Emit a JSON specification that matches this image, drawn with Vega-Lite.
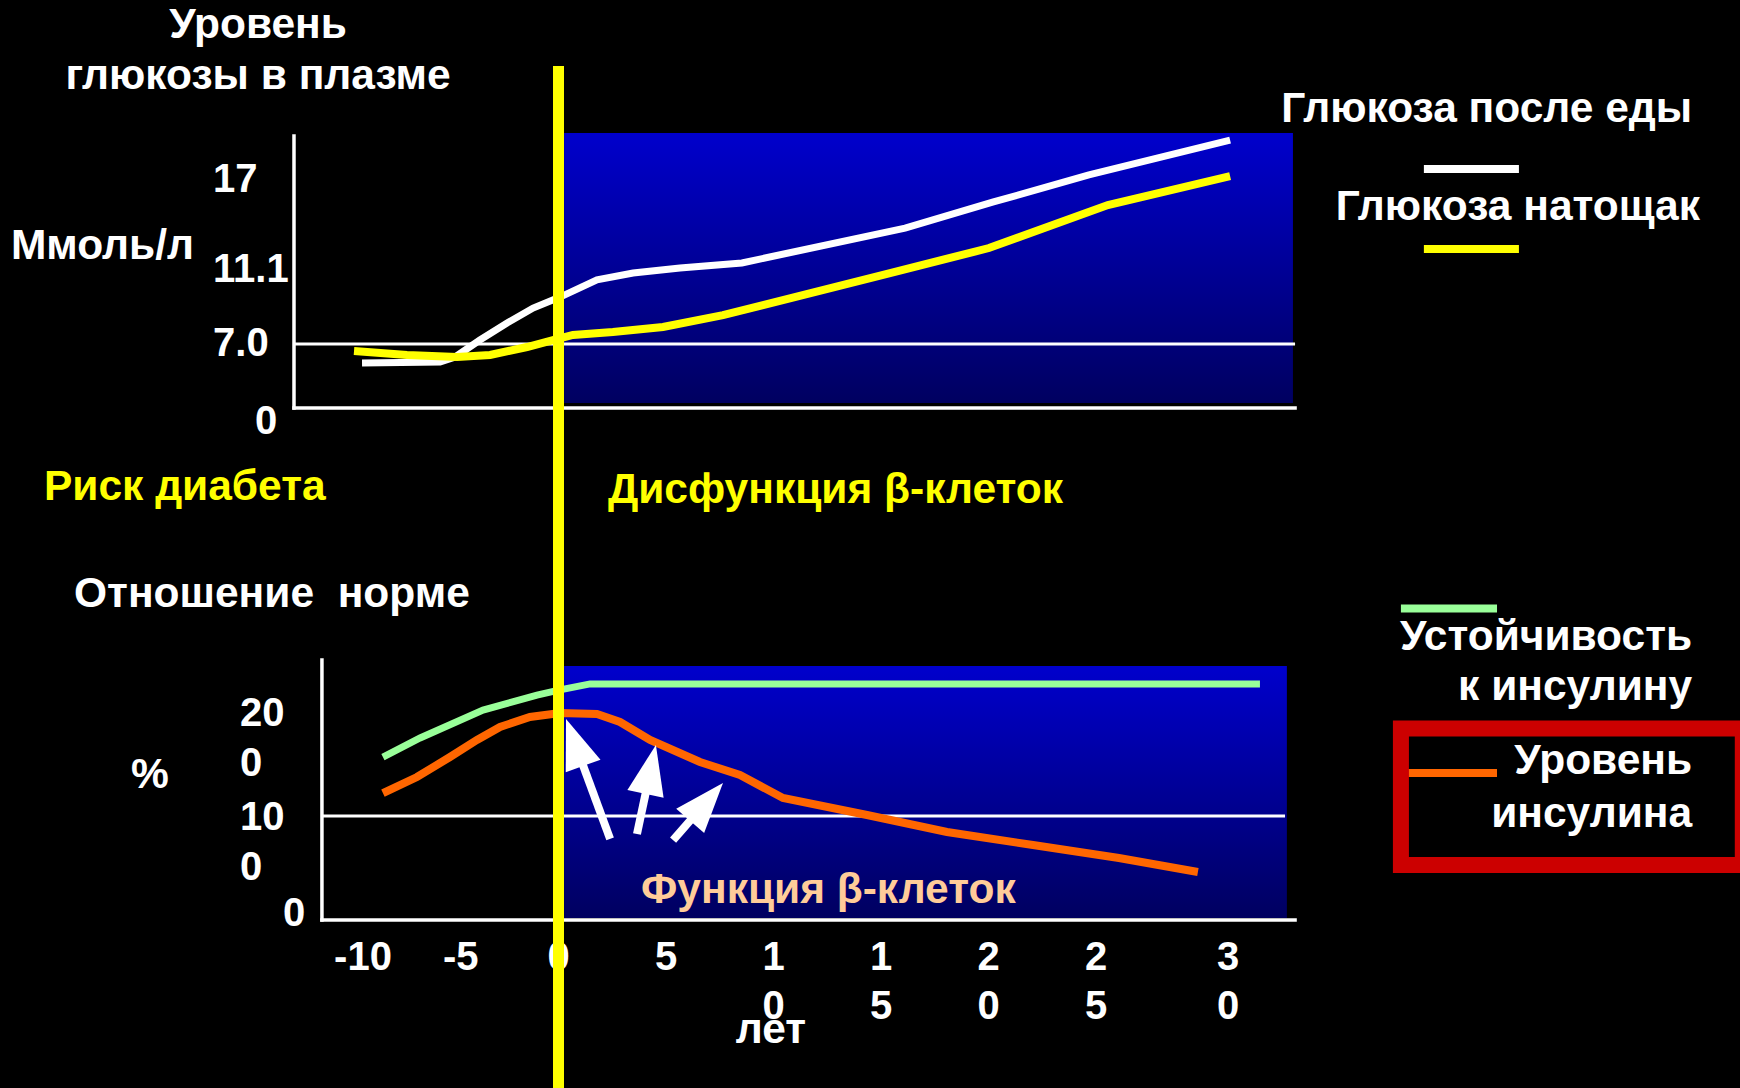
{
  "$schema": "https://vega.github.io/schema/vega-lite/v6.json",
  "width": 1740,
  "height": 1088,
  "autosize": {"type": "none"},
  "padding": 0,
  "background": "#000000",
  "config": {
    "view": {"stroke": null},
    "text": {"font": "Liberation Sans", "fontWeight": "bold", "fontSize": 42.5, "color": "#FFFFFF"}
  },
  "datasets": {
    "postMeal": [
      {"year": -10.05, "mmol": 4.92}, {"year": -6.06, "mmol": 5.03}, {"year": -5.29, "mmol": 5.58},
      {"year": -4.02, "mmol": 7.22}, {"year": -2.63, "mmol": 8.16}, {"year": -1.3, "mmol": 8.99},
      {"year": 0.07, "mmol": 9.6}, {"year": 1.79, "mmol": 10.55}, {"year": 3.47, "mmol": 10.93},
      {"year": 5.65, "mmol": 11.23}, {"year": 8.53, "mmol": 11.56}, {"year": 16.12, "mmol": 13.85},
      {"year": 20.23, "mmol": 15.56}, {"year": 24.67, "mmol": 17.33}, {"year": 30.08, "mmol": 19.62}
    ],
    "fasting": [
      {"year": -10.46, "mmol": 6.23}, {"year": -7.75, "mmol": 5.8}, {"year": -5.19, "mmol": 5.58},
      {"year": -3.5, "mmol": 5.8}, {"year": -1.61, "mmol": 6.67}, {"year": -0.28, "mmol": 7.22},
      {"year": 0.67, "mmol": 7.5}, {"year": 2.53, "mmol": 7.66}, {"year": 4.86, "mmol": 7.94},
      {"year": 7.65, "mmol": 8.6}, {"year": 15.42, "mmol": 10.93},
      {"year": 20.02, "mmol": 12.54}, {"year": 25.45, "mmol": 15.36}, {"year": 30.08, "mmol": 17.26}
    ],
    "resistance": [
      {"year": -8.98, "pct": 156.7}, {"year": -7.08, "pct": 175.0}, {"year": -3.86, "pct": 201.9},
      {"year": -1.1, "pct": 216.3}, {"year": 0.07, "pct": 221.2}, {"year": 1.47, "pct": 227.0},
      {"year": 31.21, "pct": 227.0}
    ],
    "insulin": [
      {"year": -8.98, "pct": 122.1}, {"year": -7.24, "pct": 137.5}, {"year": -5.55, "pct": 156.7},
      {"year": -4.17, "pct": 173.1}, {"year": -2.99, "pct": 185.6}, {"year": -1.46, "pct": 195.2},
      {"year": 0.07, "pct": 199.0}, {"year": 1.79, "pct": 198.1}, {"year": 2.86, "pct": 190.4},
      {"year": 4.26, "pct": 173.1}, {"year": 6.58, "pct": 151.9}, {"year": 8.44, "pct": 139.4},
      {"year": 10.44, "pct": 117.3}, {"year": 14.35, "pct": 101.0}, {"year": 18.07, "pct": 84.6},
      {"year": 22.07, "pct": 72.1}, {"year": 25.87, "pct": 59.6}, {"year": 28.86, "pct": 46.2}
    ],
    "arrows": [
      {"tailYear": 2.4, "tailPct": 77.9, "neckYear": 0.83, "neckPct": 166.2, "tipYear": 0.35, "tipPct": 193.3, "heading": 340},
      {"tailYear": 3.65, "tailPct": 82.7, "neckYear": 4.24, "neckPct": 140.1, "tipYear": 4.53, "tipPct": 168.3, "heading": 12},
      {"tailYear": 5.33, "tailPct": 76.9, "neckYear": 6.73, "neckPct": 110.0, "tipYear": 7.65, "tipPct": 131.7, "heading": 41}
    ],
    "years": [
      {"year": -10, "label": "-10"}, {"year": -5, "label": "-5"}, {"year": 0, "label": "0"},
      {"year": 5, "label": "5"}, {"year": 10, "label": "1\n0"}, {"year": 15, "label": "1\n5"},
      {"year": 20, "label": "2\n0"}, {"year": 25, "label": "2\n5"}, {"year": 30, "label": "3\n0"}
    ]
  },
  "resolve": {"scale": {"y": "independent"}},
  "layer": [
    {
      "layer": [
        {
          "data": {"values": [{"start": 0.26, "end": 32.46, "low": 0.55, "high": 20.08}]},
          "mark": {"type": "rect", "fill": {"gradient": "linear", "x1": 0, "y1": 0, "x2": 0, "y2": 1, "stops": [{"offset": 0, "color": "#0000CC"}, {"offset": 1, "color": "#000060"}]}},
          "encoding": {
            "x": {"field": "start", "type": "quantitative", "scale": {"domain": [-10, 0, 25, 30], "range": [363, 558.5, 1096, 1228], "nice": false, "zero": false}, "axis": null},
            "x2": {"field": "end"},
            "y": {"field": "high", "type": "quantitative", "scale": {"domain": [0, 7, 11.1, 17], "range": [408, 344, 270, 180], "nice": false, "zero": false}, "axis": null},
            "y2": {"field": "low"}
          }
        },
        {
          "data": {"values": [
            {"fromYear": -13.53, "toYear": -13.53, "fromLevel": 0, "toLevel": 19.88},
            {"fromYear": -13.53, "toYear": 32.54, "fromLevel": 0, "toLevel": 0}
          ]},
          "mark": {"type": "rule", "color": "#FFFFFF", "strokeWidth": 3.5, "strokeCap": "square"},
          "encoding": {
            "x": {"field": "fromYear", "type": "quantitative", "scale": {"domain": [-10, 0, 25, 30], "range": [363, 558.5, 1096, 1228], "nice": false, "zero": false}, "axis": null},
            "x2": {"field": "toYear"},
            "y": {"field": "fromLevel", "type": "quantitative", "scale": {"domain": [0, 7, 11.1, 17], "range": [408, 344, 270, 180], "nice": false, "zero": false}, "axis": null},
            "y2": {"field": "toLevel"}
          }
        },
        {
          "data": {"values": [{"fromYear": -13.53, "toYear": 32.54, "level": 7}]},
          "mark": {"type": "rule", "color": "#FFFFFF", "strokeWidth": 3},
          "encoding": {
            "x": {"field": "fromYear", "type": "quantitative", "scale": {"domain": [-10, 0, 25, 30], "range": [363, 558.5, 1096, 1228], "nice": false, "zero": false}, "axis": null},
            "x2": {"field": "toYear"},
            "y": {"field": "level", "type": "quantitative", "scale": {"domain": [0, 7, 11.1, 17], "range": [408, 344, 270, 180], "nice": false, "zero": false}, "axis": null}
          }
        },
        {
          "data": {"name": "postMeal"},
          "mark": {"type": "line", "color": "#FFFFFF", "strokeWidth": 7, "strokeCap": "butt"},
          "encoding": {
            "x": {"field": "year", "type": "quantitative", "scale": {"domain": [-10, 0, 25, 30], "range": [363, 558.5, 1096, 1228], "nice": false, "zero": false}, "axis": null},
            "y": {"field": "mmol", "type": "quantitative", "scale": {"domain": [0, 7, 11.1, 17], "range": [408, 344, 270, 180], "nice": false, "zero": false}, "axis": null}
          }
        },
        {
          "data": {"name": "fasting"},
          "mark": {"type": "line", "color": "#FFFF00", "strokeWidth": 8, "strokeCap": "butt"},
          "encoding": {
            "x": {"field": "year", "type": "quantitative", "scale": {"domain": [-10, 0, 25, 30], "range": [363, 558.5, 1096, 1228], "nice": false, "zero": false}, "axis": null},
            "y": {"field": "mmol", "type": "quantitative", "scale": {"domain": [0, 7, 11.1, 17], "range": [408, 344, 270, 180], "nice": false, "zero": false}, "axis": null}
          }
        },
        {
          "data": {"values": [{"level": 17, "label": "17"}, {"level": 11.1, "label": "11.1"}, {"level": 7, "label": "7.0"}]},
          "mark": {"type": "text", "align": "left", "baseline": "middle", "fontSize": 40},
          "encoding": {
            "x": {"datum": -17.67, "type": "quantitative", "scale": {"domain": [-10, 0, 25, 30], "range": [363, 558.5, 1096, 1228], "nice": false, "zero": false}, "axis": null},
            "y": {"field": "level", "type": "quantitative", "scale": {"domain": [0, 7, 11.1, 17], "range": [408, 344, 270, 180], "nice": false, "zero": false}, "axis": null},
            "text": {"field": "label", "type": "nominal"}
          }
        },
        {
          "data": {"values": [{"level": 0, "label": "0"}]},
          "mark": {"type": "text", "align": "left", "baseline": "middle", "dy": 14, "fontSize": 40},
          "encoding": {
            "x": {"datum": -15.52, "type": "quantitative", "scale": {"domain": [-10, 0, 25, 30], "range": [363, 558.5, 1096, 1228], "nice": false, "zero": false}, "axis": null},
            "y": {"field": "level", "type": "quantitative", "scale": {"domain": [0, 7, 11.1, 17], "range": [408, 344, 270, 180], "nice": false, "zero": false}, "axis": null},
            "text": {"field": "label", "type": "nominal"}
          }
        },
        {
          "data": {"values": [
            {"year": -15.37, "level": 26.31, "label": "Уровень"},
            {"year": -15.37, "level": 22.97, "label": "глюкозы в плазме"}
          ]},
          "mark": {"type": "text", "align": "center", "baseline": "alphabetic"},
          "encoding": {
            "x": {"field": "year", "type": "quantitative", "scale": {"domain": [-10, 0, 25, 30], "range": [363, 558.5, 1096, 1228], "nice": false, "zero": false}, "axis": null},
            "y": {"field": "level", "type": "quantitative", "scale": {"domain": [0, 7, 11.1, 17], "range": [408, 344, 270, 180], "nice": false, "zero": false}, "axis": null},
            "text": {"field": "label", "type": "nominal"}
          }
        },
        {
          "data": {"values": [{"year": -28.01, "level": 11.8, "label": "Ммоль/л"}]},
          "mark": {"type": "text", "align": "left", "baseline": "alphabetic"},
          "encoding": {
            "x": {"field": "year", "type": "quantitative", "scale": {"domain": [-10, 0, 25, 30], "range": [363, 558.5, 1096, 1228], "nice": false, "zero": false}, "axis": null},
            "y": {"field": "level", "type": "quantitative", "scale": {"domain": [0, 7, 11.1, 17], "range": [408, 344, 270, 180], "nice": false, "zero": false}, "axis": null},
            "text": {"field": "label", "type": "nominal"}
          }
        },
        {
          "data": {"values": [
            {"year": 47.58, "level": 20.8, "label": "Глюкоза после еды"},
            {"year": 47.88, "level": 14.38, "label": "Глюкоза натощак"}
          ]},
          "mark": {"type": "text", "align": "right", "baseline": "alphabetic"},
          "encoding": {
            "x": {"field": "year", "type": "quantitative", "scale": {"domain": [-10, 0, 25, 30], "range": [363, 558.5, 1096, 1228], "nice": false, "zero": false}, "axis": null},
            "y": {"field": "level", "type": "quantitative", "scale": {"domain": [0, 7, 11.1, 17], "range": [408, 344, 270, 180], "nice": false, "zero": false}, "axis": null},
            "text": {"field": "label", "type": "nominal"}
          }
        },
        {
          "data": {"values": [{"fromYear": 37.42, "toYear": 41.02, "level": 17.72}]},
          "mark": {"type": "rule", "color": "#FFFFFF", "strokeWidth": 8},
          "encoding": {
            "x": {"field": "fromYear", "type": "quantitative", "scale": {"domain": [-10, 0, 25, 30], "range": [363, 558.5, 1096, 1228], "nice": false, "zero": false}, "axis": null},
            "x2": {"field": "toYear"},
            "y": {"field": "level", "type": "quantitative", "scale": {"domain": [0, 7, 11.1, 17], "range": [408, 344, 270, 180], "nice": false, "zero": false}, "axis": null}
          }
        },
        {
          "data": {"values": [{"fromYear": 37.42, "toYear": 41.02, "level": 12.48}]},
          "mark": {"type": "rule", "color": "#FFFF00", "strokeWidth": 8},
          "encoding": {
            "x": {"field": "fromYear", "type": "quantitative", "scale": {"domain": [-10, 0, 25, 30], "range": [363, 558.5, 1096, 1228], "nice": false, "zero": false}, "axis": null},
            "x2": {"field": "toYear"},
            "y": {"field": "level", "type": "quantitative", "scale": {"domain": [0, 7, 11.1, 17], "range": [408, 344, 270, 180], "nice": false, "zero": false}, "axis": null}
          }
        },
        {
          "data": {"values": [
            {"year": -26.32, "level": -10.06, "label": "Риск диабета"},
            {"year": 2.3, "level": -10.39, "label": "Дисфункция β-клеток"}
          ]},
          "mark": {"type": "text", "align": "left", "baseline": "alphabetic", "color": "#FFFF00"},
          "encoding": {
            "x": {"field": "year", "type": "quantitative", "scale": {"domain": [-10, 0, 25, 30], "range": [363, 558.5, 1096, 1228], "nice": false, "zero": false}, "axis": null},
            "y": {"field": "level", "type": "quantitative", "scale": {"domain": [0, 7, 11.1, 17], "range": [408, 344, 270, 180], "nice": false, "zero": false}, "axis": null},
            "text": {"field": "label", "type": "nominal"}
          }
        }
      ]
    },
    {
      "layer": [
        {
          "data": {"values": [{"start": 0.26, "end": 32.23, "low": 2, "high": 244.2}]},
          "mark": {"type": "rect", "fill": {"gradient": "linear", "x1": 0, "y1": 0, "x2": 0, "y2": 1, "stops": [{"offset": 0, "color": "#0000CC"}, {"offset": 1, "color": "#000060"}]}},
          "encoding": {
            "x": {"field": "start", "type": "quantitative", "scale": {"domain": [-10, 0, 25, 30], "range": [363, 558.5, 1096, 1228], "nice": false, "zero": false}, "axis": null},
            "x2": {"field": "end"},
            "y": {"field": "high", "type": "quantitative", "scale": {"domain": [0, 200], "range": [920, 712], "nice": false, "zero": false}, "axis": null},
            "y2": {"field": "low"}
          }
        },
        {
          "data": {"values": [
            {"fromYear": -12.1, "toYear": -12.1, "fromPct": 0, "toPct": 250},
            {"fromYear": -12.1, "toYear": 32.54, "fromPct": 0, "toPct": 0}
          ]},
          "mark": {"type": "rule", "color": "#FFFFFF", "strokeWidth": 3.5, "strokeCap": "square"},
          "encoding": {
            "x": {"field": "fromYear", "type": "quantitative", "scale": {"domain": [-10, 0, 25, 30], "range": [363, 558.5, 1096, 1228], "nice": false, "zero": false}, "axis": null},
            "x2": {"field": "toYear"},
            "y": {"field": "fromPct", "type": "quantitative", "scale": {"domain": [0, 200], "range": [920, 712], "nice": false, "zero": false}, "axis": null},
            "y2": {"field": "toPct"}
          }
        },
        {
          "data": {"values": [{"fromYear": -12.1, "toYear": 32.16, "pct": 100}]},
          "mark": {"type": "rule", "color": "#FFFFFF", "strokeWidth": 3},
          "encoding": {
            "x": {"field": "fromYear", "type": "quantitative", "scale": {"domain": [-10, 0, 25, 30], "range": [363, 558.5, 1096, 1228], "nice": false, "zero": false}, "axis": null},
            "x2": {"field": "toYear"},
            "y": {"field": "pct", "type": "quantitative", "scale": {"domain": [0, 200], "range": [920, 712], "nice": false, "zero": false}, "axis": null}
          }
        },
        {
          "data": {"name": "resistance"},
          "mark": {"type": "line", "color": "#99FF99", "strokeWidth": 7, "strokeCap": "butt"},
          "encoding": {
            "x": {"field": "year", "type": "quantitative", "scale": {"domain": [-10, 0, 25, 30], "range": [363, 558.5, 1096, 1228], "nice": false, "zero": false}, "axis": null},
            "y": {"field": "pct", "type": "quantitative", "scale": {"domain": [0, 200], "range": [920, 712], "nice": false, "zero": false}, "axis": null}
          }
        },
        {
          "data": {"name": "insulin"},
          "mark": {"type": "line", "color": "#FF6600", "strokeWidth": 8, "strokeCap": "butt"},
          "encoding": {
            "x": {"field": "year", "type": "quantitative", "scale": {"domain": [-10, 0, 25, 30], "range": [363, 558.5, 1096, 1228], "nice": false, "zero": false}, "axis": null},
            "y": {"field": "pct", "type": "quantitative", "scale": {"domain": [0, 200], "range": [920, 712], "nice": false, "zero": false}, "axis": null}
          }
        },
        {
          "data": {"name": "arrows"},
          "mark": {"type": "rule", "color": "#FFFFFF", "strokeWidth": 8, "strokeCap": "butt"},
          "encoding": {
            "x": {"field": "tailYear", "type": "quantitative", "scale": {"domain": [-10, 0, 25, 30], "range": [363, 558.5, 1096, 1228], "nice": false, "zero": false}, "axis": null},
            "x2": {"field": "neckYear"},
            "y": {"field": "tailPct", "type": "quantitative", "scale": {"domain": [0, 200], "range": [920, 712], "nice": false, "zero": false}, "axis": null},
            "y2": {"field": "neckPct"}
          }
        },
        {
          "data": {"name": "arrows"},
          "mark": {"type": "point", "shape": "M0,0L0.37,1L-0.37,1Z", "filled": true, "color": "#FFFFFF", "opacity": 1, "size": 10000, "strokeWidth": 0},
          "encoding": {
            "x": {"field": "tipYear", "type": "quantitative", "scale": {"domain": [-10, 0, 25, 30], "range": [363, 558.5, 1096, 1228], "nice": false, "zero": false}, "axis": null},
            "y": {"field": "tipPct", "type": "quantitative", "scale": {"domain": [0, 200], "range": [920, 712], "nice": false, "zero": false}, "axis": null},
            "angle": {"field": "heading", "type": "quantitative", "scale": null}
          }
        },
        {
          "data": {"values": [{"pct": 200, "label": "20\n0"}, {"pct": 100, "label": "10\n0"}]},
          "mark": {"type": "text", "align": "left", "baseline": "alphabetic", "dy": 14, "lineBreak": "\n", "lineHeight": 50, "fontSize": 40},
          "encoding": {
            "x": {"datum": -16.29, "type": "quantitative", "scale": {"domain": [-10, 0, 25, 30], "range": [363, 558.5, 1096, 1228], "nice": false, "zero": false}, "axis": null},
            "y": {"field": "pct", "type": "quantitative", "scale": {"domain": [0, 200], "range": [920, 712], "nice": false, "zero": false}, "axis": null},
            "text": {"field": "label", "type": "nominal"}
          }
        },
        {
          "data": {"values": [{"pct": 0, "label": "0"}]},
          "mark": {"type": "text", "align": "left", "baseline": "alphabetic", "dy": 6, "fontSize": 40},
          "encoding": {
            "x": {"datum": -14.09, "type": "quantitative", "scale": {"domain": [-10, 0, 25, 30], "range": [363, 558.5, 1096, 1228], "nice": false, "zero": false}, "axis": null},
            "y": {"field": "pct", "type": "quantitative", "scale": {"domain": [0, 200], "range": [920, 712], "nice": false, "zero": false}, "axis": null},
            "text": {"field": "label", "type": "nominal"}
          }
        },
        {
          "data": {"name": "years"},
          "mark": {"type": "text", "align": "center", "baseline": "alphabetic", "dy": 50, "lineBreak": "\n", "lineHeight": 49, "fontSize": 40},
          "encoding": {
            "x": {"field": "year", "type": "quantitative", "scale": {"domain": [-10, 0, 25, 30], "range": [363, 558.5, 1096, 1228], "nice": false, "zero": false}, "axis": null},
            "y": {"datum": 0, "type": "quantitative", "scale": {"domain": [0, 200], "range": [920, 712], "nice": false, "zero": false}, "axis": null},
            "text": {"field": "label", "type": "nominal"}
          }
        },
        {
          "data": {"values": [
            {"year": 9.88, "pct": -118.5, "label": "лет"},
            {"year": -20.9, "pct": 127.4, "label": "%"}
          ]},
          "mark": {"type": "text", "align": "center", "baseline": "alphabetic"},
          "encoding": {
            "x": {"field": "year", "type": "quantitative", "scale": {"domain": [-10, 0, 25, 30], "range": [363, 558.5, 1096, 1228], "nice": false, "zero": false}, "axis": null},
            "y": {"field": "pct", "type": "quantitative", "scale": {"domain": [0, 200], "range": [920, 712], "nice": false, "zero": false}, "axis": null},
            "text": {"field": "label", "type": "nominal"}
          }
        },
        {
          "data": {"values": [{"year": -24.78, "pct": 300.96, "label": "Отношение\u00a0 норме"}]},
          "mark": {"type": "text", "align": "left", "baseline": "alphabetic"},
          "encoding": {
            "x": {"field": "year", "type": "quantitative", "scale": {"domain": [-10, 0, 25, 30], "range": [363, 558.5, 1096, 1228], "nice": false, "zero": false}, "axis": null},
            "y": {"field": "pct", "type": "quantitative", "scale": {"domain": [0, 200], "range": [920, 712], "nice": false, "zero": false}, "axis": null},
            "text": {"field": "label", "type": "nominal"}
          }
        },
        {
          "data": {"values": [{"year": 3.84, "pct": 16, "label": "Функция β-клеток"}]},
          "mark": {"type": "text", "align": "left", "baseline": "alphabetic", "color": "#FFCC99"},
          "encoding": {
            "x": {"field": "year", "type": "quantitative", "scale": {"domain": [-10, 0, 25, 30], "range": [363, 558.5, 1096, 1228], "nice": false, "zero": false}, "axis": null},
            "y": {"field": "pct", "type": "quantitative", "scale": {"domain": [0, 200], "range": [920, 712], "nice": false, "zero": false}, "axis": null},
            "text": {"field": "label", "type": "nominal"}
          }
        },
        {
          "data": {"values": [{"fromYear": 36.55, "toYear": 40.19, "pct": 299.5}]},
          "mark": {"type": "rule", "color": "#99FF99", "strokeWidth": 8},
          "encoding": {
            "x": {"field": "fromYear", "type": "quantitative", "scale": {"domain": [-10, 0, 25, 30], "range": [363, 558.5, 1096, 1228], "nice": false, "zero": false}, "axis": null},
            "x2": {"field": "toYear"},
            "y": {"field": "pct", "type": "quantitative", "scale": {"domain": [0, 200], "range": [920, 712], "nice": false, "zero": false}, "axis": null}
          }
        },
        {
          "data": {"values": [{"fromYear": 36.55, "toYear": 40.19, "pct": 141.3}]},
          "mark": {"type": "rule", "color": "#FF6600", "strokeWidth": 8},
          "encoding": {
            "x": {"field": "fromYear", "type": "quantitative", "scale": {"domain": [-10, 0, 25, 30], "range": [363, 558.5, 1096, 1228], "nice": false, "zero": false}, "axis": null},
            "x2": {"field": "toYear"},
            "y": {"field": "pct", "type": "quantitative", "scale": {"domain": [0, 200], "range": [920, 712], "nice": false, "zero": false}, "axis": null}
          }
        },
        {
          "data": {"values": [{"start": 36.55, "end": 49.5, "low": 52.9, "high": 184.1}]},
          "mark": {"type": "rect", "fillOpacity": 0, "stroke": "#CC0000", "strokeWidth": 16},
          "encoding": {
            "x": {"field": "start", "type": "quantitative", "scale": {"domain": [-10, 0, 25, 30], "range": [363, 558.5, 1096, 1228], "nice": false, "zero": false}, "axis": null},
            "x2": {"field": "end"},
            "y": {"field": "high", "type": "quantitative", "scale": {"domain": [0, 200], "range": [920, 712], "nice": false, "zero": false}, "axis": null},
            "y2": {"field": "low"}
          }
        },
        {
          "data": {"values": [
            {"year": 47.58, "pct": 259.6, "label": "Устойчивость"},
            {"year": 47.58, "pct": 211.5, "label": "к инсулину"},
            {"year": 47.58, "pct": 140.4, "label": "Уровень"},
            {"year": 47.58, "pct": 89.4, "label": "инсулина"}
          ]},
          "mark": {"type": "text", "align": "right", "baseline": "alphabetic"},
          "encoding": {
            "x": {"field": "year", "type": "quantitative", "scale": {"domain": [-10, 0, 25, 30], "range": [363, 558.5, 1096, 1228], "nice": false, "zero": false}, "axis": null},
            "y": {"field": "pct", "type": "quantitative", "scale": {"domain": [0, 200], "range": [920, 712], "nice": false, "zero": false}, "axis": null},
            "text": {"field": "label", "type": "nominal"}
          }
        },
        {
          "data": {"values": [{"year": 0, "fromPct": 821.2, "toPct": -161.5}]},
          "mark": {"type": "rule", "color": "#FFFF00", "strokeWidth": 11},
          "encoding": {
            "x": {"field": "year", "type": "quantitative", "scale": {"domain": [-10, 0, 25, 30], "range": [363, 558.5, 1096, 1228], "nice": false, "zero": false}, "axis": null},
            "y": {"field": "fromPct", "type": "quantitative", "scale": {"domain": [0, 200], "range": [920, 712], "nice": false, "zero": false}, "axis": null},
            "y2": {"field": "toPct"}
          }
        }
      ]
    }
  ]
}
